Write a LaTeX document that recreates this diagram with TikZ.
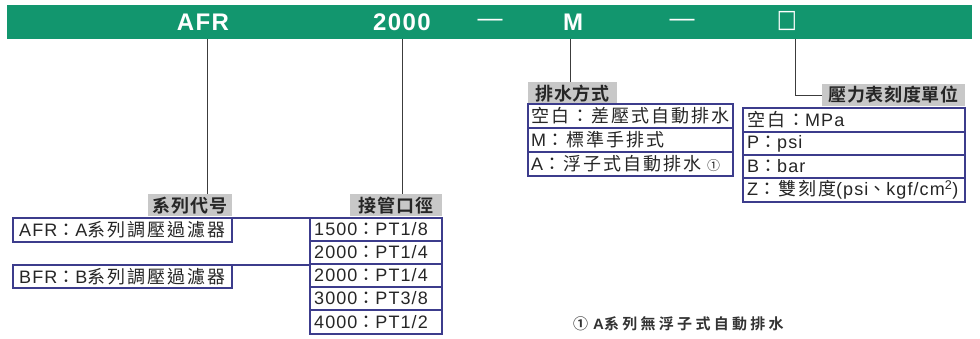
\documentclass[tikz,border=0pt]{standalone}
\usepackage{fontspec}
\setmainfont{Liberation Sans}[LetterSpace=6]
\newfontfamily\cjk{Noto Sans CJK TC}[LetterSpace=11]
\newfontfamily\cjkb{Noto Sans CJK TC Bold}[LetterSpace=4]
\newfontfamily\cjkfn{Noto Sans CJK TC Bold}[LetterSpace=22]
\newfontfamily\symf{DejaVu Sans}
\definecolor{barg}{RGB}{18,150,110}
\definecolor{labg}{RGB}{200,200,200}
\definecolor{boxb}{RGB}{60,60,140}
\definecolor{linec}{RGB}{60,60,60}
\begin{document}
\begin{tikzpicture}[x=1pt,y=-1pt,
  bartxt/.style={text=white,font=\fontsize{24}{24}\selectfont\bfseries,inner sep=0},
  lab/.style={fill=labg,font=\fontsize{18}{18}\cjkb,inner sep=0,minimum height=22,text=black!85},
  ent/.style={font=\fontsize{18}{18}\selectfont,anchor=west,inner sep=0,text=black!85},
  cell/.style={draw=boxb,line width=1.1pt},
  conn/.style={draw=linec,line width=0.9pt}]
\useasboundingbox (0,0) rectangle (980,339);
\fill[white] (0,0) rectangle (980,339);
% bar
\fill[barg] (7,5) rectangle (972,39);
\node[bartxt] (tAFR) at (203,22.5) {AFR};
\node[bartxt] (t2000) at (402,22.5) {2000};
\node[bartxt,font=\fontsize{25}{25}\selectfont] (td1) at (490,22.5) {—};
\node[bartxt] (tM) at (573,22.5) {M};
\node[bartxt,font=\fontsize{25}{25}\selectfont] (td2) at (682,22.5) {—};
\node[bartxt,font=\fontsize{25}{25}\symf,xscale=0.85,transform shape] (tBox) at (787,21) {□};
\coordinate (cAFR) at (207,39);
\coordinate (c2000) at (402,39);
\coordinate (cM) at (570,39);
\coordinate (cBox) at (795,39);
% labels
\node[lab,minimum width=84] (l1) at (190,205.5) {系列代号};
\node[lab,minimum width=92] (l2) at (396,205.5) {接管口徑};
\node[lab,minimum width=89] (l3) at (572.5,93.5) {排水方式};
\node[lab,minimum width=143] (l4) at (893.5,95) {壓力表刻度單位};
\coordinate (k4) at (795,95);
\draw[conn] (cAFR) -- (cAFR |- l1.north);
\draw[conn] (c2000) -- (c2000 |- l2.north);
\draw[conn] (cM) -- (cM |- l3.north);
\draw[conn] (cBox) -- (k4) -- (l4.west);
% series boxes
\draw[cell] (13,218) rectangle (232,242);
\draw[cell] (13,265) rectangle (232,288);
\draw[cell] (232,218) -- (310,218);
\draw[cell] (232,265) -- (310,265);
\node[ent] (a1) at (19,230) {AFR{\cjk ：}A{\cjk 系列調壓過濾器}};
\node[ent] (a2) at (19,276.5) {BFR{\cjk ：}B{\cjk 系列調壓過濾器}};
% pipe table
\draw[cell] (310,218) rectangle (442,334);
\foreach \yy in {241,264,287,310} \draw[cell] (310,\yy) -- (442,\yy);
\node[ent] (p1) at (314,229.5) {1500{\cjk ：}PT1/8};
\node[ent] (p2) at (314,252.5) {2000{\cjk ：}PT1/4};
\node[ent] (p3) at (314,275.5) {2000{\cjk ：}PT1/4};
\node[ent] (p4) at (314,298.5) {3000{\cjk ：}PT3/8};
\node[ent] (p5) at (314,322) {4000{\cjk ：}PT1/2};
% drain table
\draw[cell] (528,104) rectangle (733,176);
\foreach \yy in {128,152} \draw[cell] (528,\yy) -- (733,\yy);
\node[ent] (d1) at (531,116) {{\cjk 空白：差壓式自動排水}};
\node[ent] (d2) at (531,140) {M{\cjk ：標準手排式}};
\node[ent] (d3) at (531,164) {A{\cjk ：浮子式自動排水\hspace{6pt}{\fontsize{13}{13}\selectfont ①}}};
% gauge table
\draw[cell] (743,108) rectangle (965,202);
\foreach \yy in {132,155,178} \draw[cell] (743,\yy) -- (965,\yy);
\node[ent] (g1) at (747,120) {{\cjk 空白：}MPa};
\node[ent] (g2) at (747,143.5) {P{\cjk ：}psi};
\node[ent] (g3) at (747,166.5) {B{\cjk ：}bar};
\node[ent] (g4) at (747,190) {Z{\cjk ：雙刻度}(psi{\cjk 、}kgf/cm\textsuperscript{2})};
% footnote
\node[inner sep=0,font=\fontsize{15}{15}\cjkfn,text=black!80,anchor=west] (fn) at (573,324) {①\hspace{5pt}{\fontspec{Liberation Sans Bold}[LetterSpace=10]A}系列無浮子式自動排水};
\end{tikzpicture}
\end{document}
